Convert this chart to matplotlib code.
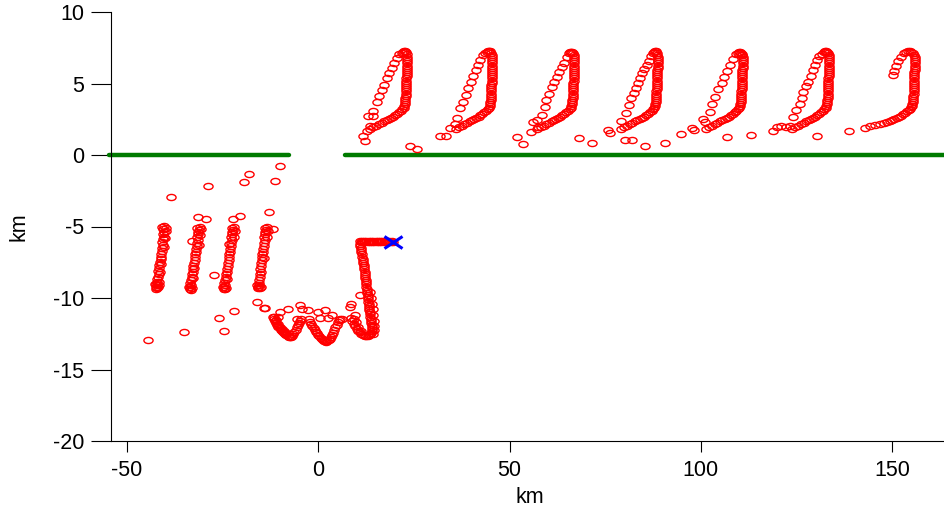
import matplotlib
matplotlib.use("Agg")
import matplotlib.pyplot as plt
from matplotlib.path import Path
from matplotlib.transforms import Affine2D

plt.rcParams['font.family'] = ['Liberation Sans', 'DejaVu Sans']
plt.rcParams['axes.unicode_minus'] = False

# ---------------------------------------------------------------------------
# Data (km)
# ---------------------------------------------------------------------------
# Barrier along y = 0 with an opening between the two segments
wall_left_x = [-54.6, -7.6]
wall_right_x = [7.0, 170.0]
wall_y = [0.0, 0.0]

# Final float position
end_x = 19.6
end_y = -6.06

# Upper excursions (north of the barrier), one list per loop
loop1 = [
    (12.2, 1.0), (11.8, 1.3), (12.7, 1.65), (13.5, 2.05), (13.1, 2.75), (14.4, 2.7),
    (14.4, 3.1), (15.3, 3.7), (15.9, 4.1), (16.6, 4.55), (17.2, 4.9), (17.9, 5.35),
    (18.6, 5.7), (19.2, 6.05), (19.8, 6.4), (20.5, 6.75), (21.2, 7.05),
    (21.8, 7.1), (22.1, 7.22), (22.4, 7.3), (22.7, 7.3), (22.95, 7.2), (23.1, 7.05),
    (23.2, 6.85), (23.2, 6.7), (23.2, 6.55), (23.25, 6.4), (23.25, 6.25), (23.2, 6.1),
    (23.15, 5.95), (23.1, 5.8), (23.1, 5.65), (23.08, 5.5), (23.05, 5.35), (23.0, 5.2),
    (23.0, 5.05), (22.98, 4.9), (22.95, 4.75), (22.93, 4.6), (22.9, 4.45), (22.88, 4.3),
    (22.85, 4.15), (22.8, 4.0), (22.75, 3.85), (22.68, 3.7), (22.6, 3.55), (22.48, 3.42),
    (22.3, 3.3), (22.0, 3.2), (21.6, 3.08), (21.1, 2.98), (20.6, 2.88), (20.1, 2.78),
    (19.6, 2.68), (19.0, 2.6), (18.5, 2.52), (17.9, 2.44), (17.3, 2.35), (16.6, 2.25),
    (15.9, 2.15), (15.2, 2.05), (14.4, 1.95), (13.6, 1.85),
]

loop2 = [
    (31.8, 1.36), (33.4, 1.3), (34.4, 1.86), (35.7, 2.2), (36.2, 2.56), (37.0, 3.26),
    (37.9, 3.7), (38.6, 4.2), (39.2, 4.66), (39.9, 5.13), (40.5, 5.5), (41.2, 5.94),
    (41.8, 6.3), (42.4, 6.64), (43.1, 7.0),
    (43.7, 7.1), (44.1, 7.2), (44.4, 7.28), (44.7, 7.3), (45.0, 7.25), (45.25, 7.15), (45.4, 7.0),
    (45.5, 6.85), (45.5, 6.7), (45.5, 6.55), (45.5, 6.4), (45.5, 6.25), (45.48, 6.1),
    (45.45, 5.95), (45.42, 5.8), (45.4, 5.65), (45.38, 5.5), (45.35, 5.35), (45.32, 5.2),
    (45.3, 5.05), (45.28, 4.9), (45.25, 4.75), (45.23, 4.6), (45.2, 4.45), (45.18, 4.3),
    (45.15, 4.15), (45.1, 4.0), (45.05, 3.85), (44.98, 3.7), (44.9, 3.55), (44.78, 3.42),
    (44.6, 3.3), (44.3, 3.2), (43.9, 3.08), (43.4, 2.98), (42.9, 2.88), (42.4, 2.78),
    (41.9, 2.68), (41.3, 2.6), (40.8, 2.52), (40.2, 2.44), (39.6, 2.35), (38.9, 2.25),
    (38.2, 2.15), (37.5, 2.05), (36.7, 1.95), (35.9, 1.85),
]

loop3 = [
    (55.7, 1.63), (56.2, 2.33), (57.1, 2.45), (57.5, 1.94), (58.4, 2.8), (59.2, 3.38),
    (59.6, 3.85), (60.3, 4.3), (61.0, 4.73), (61.6, 5.08), (62.3, 5.43), (62.95, 5.78),
    (63.6, 6.13), (64.2, 6.46), (64.9, 6.83), (65.6, 7.1),
    (65.8, 7.18), (66.1, 7.22), (66.4, 7.22), (66.65, 7.12), (66.8, 7.0),
    (66.9, 6.85), (66.9, 6.7), (66.9, 6.55), (66.95, 6.4), (66.95, 6.25), (66.9, 6.1),
    (66.85, 5.95), (66.82, 5.8), (66.8, 5.65), (66.78, 5.5), (66.75, 5.35), (66.72, 5.2),
    (66.7, 5.05), (66.68, 4.9), (66.65, 4.75), (66.63, 4.6), (66.6, 4.45), (66.58, 4.3),
    (66.55, 4.15), (66.5, 4.0), (66.45, 3.85), (66.38, 3.7), (66.3, 3.55), (66.18, 3.42),
    (66.0, 3.3), (65.7, 3.2), (65.3, 3.08), (64.8, 2.98), (64.3, 2.88), (63.8, 2.78),
    (63.3, 2.68), (62.7, 2.6), (62.2, 2.52), (61.6, 2.44), (61.0, 2.35), (60.3, 2.25),
    (59.6, 2.15), (58.9, 2.05), (58.1, 1.95), (57.3, 1.85),
]

loop4 = [
    (79.2, 2.38), (80.5, 2.96), (81.1, 3.5), (81.8, 3.96), (82.45, 4.36), (83.0, 4.7),
    (83.6, 5.06), (84.0, 5.36), (84.6, 5.71), (85.2, 6.0), (85.8, 6.3), (86.4, 6.6),
    (86.9, 6.9), (87.5, 7.1),
    (87.7, 7.18), (87.95, 7.25), (88.2, 7.25), (88.45, 7.15), (88.6, 7.0),
    (88.7, 6.85), (88.7, 6.7), (88.7, 6.55), (88.75, 6.4), (88.75, 6.25), (88.7, 6.1),
    (88.65, 5.95), (88.62, 5.8), (88.6, 5.65), (88.58, 5.5), (88.55, 5.35), (88.52, 5.2),
    (88.5, 5.05), (88.48, 4.9), (88.45, 4.75), (88.43, 4.6), (88.4, 4.45), (88.38, 4.3),
    (88.35, 4.15), (88.3, 4.0), (88.25, 3.85), (88.18, 3.7), (88.1, 3.55), (87.98, 3.42),
    (87.8, 3.3), (87.5, 3.2), (87.1, 3.08), (86.6, 2.98), (86.1, 2.88), (85.6, 2.78),
    (85.1, 2.68), (84.5, 2.6), (84.0, 2.52), (83.4, 2.44), (82.8, 2.35), (82.1, 2.25),
    (81.4, 2.15), (80.7, 2.05), (79.9, 1.95), (79.1, 1.85),
]

loop5 = [
    (100.5, 2.5), (101.2, 2.3), (102.3, 3.03), (103.0, 3.6), (103.6, 4.08), (104.5, 4.6),
    (105.4, 5.06), (106.1, 5.48), (106.8, 5.9), (107.5, 6.3), (108.4, 6.7), (109.3, 7.07),
    (109.6, 7.15), (109.9, 7.22), (110.2, 7.22), (110.45, 7.15), (110.65, 7.08), (110.8, 6.98),
    (110.9, 6.85), (110.9, 6.7), (110.9, 6.55), (110.95, 6.4), (110.95, 6.25), (110.9, 6.1),
    (110.85, 5.95), (110.82, 5.8), (110.8, 5.65), (110.78, 5.5), (110.75, 5.35), (110.72, 5.2),
    (110.7, 5.05), (110.68, 4.9), (110.65, 4.75), (110.63, 4.6), (110.6, 4.45), (110.58, 4.3),
    (110.55, 4.15), (110.5, 4.0), (110.45, 3.85), (110.38, 3.7), (110.3, 3.55), (110.18, 3.42),
    (110.0, 3.3), (109.7, 3.2), (109.3, 3.08), (108.8, 2.98), (108.3, 2.88), (107.8, 2.78),
    (107.3, 2.68), (106.7, 2.6), (106.2, 2.52), (105.6, 2.44), (105.0, 2.35), (104.3, 2.25),
    (103.6, 2.15), (102.9, 2.05), (102.1, 1.95), (101.3, 1.85),
]

loop6 = [
    (121.0, 2.03), (122.3, 1.94), (123.2, 2.05), (124.0, 2.68), (124.9, 3.15), (125.8, 3.6),
    (126.3, 4.0), (126.7, 4.43), (127.4, 4.8), (128.0, 5.13), (128.8, 5.55), (129.3, 5.94),
    (129.8, 6.3), (130.3, 6.64), (131.0, 6.95),
    (131.6, 7.08), (132.1, 7.18), (132.4, 7.24), (132.7, 7.25), (133.0, 7.2), (133.25, 7.12),
    (133.4, 7.0),
    (133.5, 6.85), (133.5, 6.7), (133.5, 6.55), (133.55, 6.4), (133.55, 6.25), (133.5, 6.1),
    (133.45, 5.95), (133.42, 5.8), (133.4, 5.65), (133.38, 5.5), (133.35, 5.35), (133.32, 5.2),
    (133.3, 5.05), (133.28, 4.9), (133.25, 4.75), (133.23, 4.6), (133.2, 4.45), (133.18, 4.3),
    (133.15, 4.15), (133.1, 4.0), (133.05, 3.85), (132.98, 3.7), (132.9, 3.55), (132.78, 3.42),
    (132.6, 3.3), (132.3, 3.2), (131.9, 3.08), (131.4, 2.98), (130.9, 2.88), (130.4, 2.78),
    (129.9, 2.68), (129.3, 2.6), (128.8, 2.52), (128.2, 2.44), (127.6, 2.35), (126.9, 2.25),
    (126.2, 2.15), (125.5, 2.05), (124.7, 1.95), (123.9, 1.85),
]

loop7 = [
    (150.2, 5.6), (150.6, 5.9), (151.1, 6.25), (151.6, 6.55), (152.3, 6.85), (153.0, 7.1),
    (153.7, 7.2), (154.2, 7.25), (154.6, 7.25), (155.0, 7.2), (155.35, 7.12), (155.65, 7.0),
    (155.9, 6.85), (155.9, 6.7), (155.9, 6.55), (155.95, 6.4), (155.95, 6.25), (155.9, 6.1),
    (155.85, 5.95), (155.82, 5.8), (155.8, 5.65), (155.78, 5.5), (155.75, 5.35), (155.72, 5.2),
    (155.7, 5.05), (155.68, 4.9), (155.65, 4.75), (155.63, 4.6), (155.6, 4.45), (155.58, 4.3),
    (155.55, 4.15), (155.5, 4.0), (155.45, 3.85), (155.38, 3.7), (155.3, 3.55), (155.18, 3.42),
    (155.0, 3.35), (154.7, 3.25), (154.3, 3.15), (153.8, 3.05), (153.3, 2.95), (152.8, 2.85),
    (152.3, 2.76), (151.7, 2.68), (151.2, 2.6), (150.6, 2.52), (150.0, 2.44), (149.3, 2.36),
    (148.6, 2.3), (147.9, 2.25),
]

# Isolated fixes between the northern loops
drift_north = [
    (24.0, 0.63), (25.9, 0.4), (52.0, 1.26), (53.5, 0.77), (68.2, 1.17), (71.6, 0.82),
    (75.7, 1.75), (76.3, 1.55), (80.1, 1.05), (82.1, 1.05), (85.3, 0.63), (90.5, 0.86),
    (94.9, 1.5), (97.7, 1.86), (98.2, 1.75), (106.9, 1.24), (113.0, 1.42), (118.8, 1.7),
    (120.0, 1.96), (130.3, 1.33), (138.7, 1.68), (142.8, 1.86), (144.1, 2.0), (145.4, 2.1),
    (146.7, 2.2),
]

# Southern oscillations (south of the barrier)
streak_a = [
    (-40.2, -4.98), (-40.7, -5.0), (-39.9, -5.1), (-40.5, -5.2), (-40.3, -5.35), (-40.6, -5.5),
    (-40.4, -5.7), (-40.5, -5.9), (-40.7, -6.1), (-40.6, -6.3), (-40.9, -6.5), (-40.8, -6.7),
    (-41.0, -6.9), (-41.2, -7.1), (-41.1, -7.3), (-41.4, -7.5), (-41.5, -7.7), (-41.6, -7.9),
    (-41.8, -8.1), (-41.7, -8.3), (-41.9, -8.5), (-42.0, -8.7), (-42.1, -8.85), (-42.3, -9.0),
    (-42.2, -9.1), (-42.4, -9.2), (-42.1, -9.3), (-42.5, -9.35), (-41.9, -9.25),
    (-41.6, -8.9), (-41.3, -8.2), (-41.0, -7.6), (-40.3, -6.4), (-39.8, -5.3), (-40.0, -5.8),
    (-41.5, -9.1), (-42.6, -9.05),
]

streak_b = [
    (-31.0, -5.05), (-31.6, -5.1), (-31.2, -5.25), (-31.5, -5.4), (-31.3, -5.55), (-31.6, -5.75),
    (-31.5, -5.95), (-31.8, -6.15), (-31.7, -6.35), (-32.0, -6.55), (-31.9, -6.75), (-32.2, -6.95),
    (-32.3, -7.15), (-32.2, -7.35), (-32.5, -7.55), (-32.6, -7.75), (-32.8, -7.95), (-32.7, -8.15),
    (-33.0, -8.35), (-33.1, -8.55), (-33.2, -8.75), (-33.4, -8.95), (-33.3, -9.1), (-33.5, -9.25),
    (-33.6, -9.38), (-33.2, -9.44), (-32.9, -9.3), (-30.7, -5.2), (-32.8, -8.6), (-32.4, -7.9),
    (-30.9, -5.6), (-31.2, -6.3), (-33.8, -9.2),
]

streak_c = [
    (-22.0, -5.05), (-22.6, -5.1), (-22.2, -5.25), (-22.5, -5.4), (-22.4, -5.55), (-22.7, -5.75),
    (-22.6, -5.95), (-22.9, -6.15), (-22.8, -6.35), (-23.1, -6.55), (-23.0, -6.75), (-23.3, -6.95),
    (-23.4, -7.15), (-23.3, -7.35), (-23.6, -7.55), (-23.7, -7.75), (-23.9, -7.95), (-23.8, -8.15),
    (-24.1, -8.35), (-24.2, -8.55), (-24.3, -8.75), (-24.5, -8.95), (-24.4, -9.1), (-24.6, -9.25),
    (-24.7, -9.36), (-24.3, -9.39), (-24.0, -9.28), (-21.7, -5.3), (-23.2, -6.2),
    (-22.1, -5.7), (-23.9, -8.7), (-24.9, -9.2),
]

streak_d = [
    (-13.4, -5.05), (-14.0, -5.1), (-13.6, -5.25), (-13.9, -5.4), (-13.8, -5.55), (-14.1, -5.75),
    (-14.0, -5.95), (-14.2, -6.15), (-14.1, -6.35), (-14.4, -6.55), (-14.3, -6.75), (-14.6, -6.95),
    (-14.7, -7.15), (-14.6, -7.35), (-14.9, -7.55), (-14.9, -7.75), (-15.1, -7.95), (-15.0, -8.15),
    (-15.2, -8.35), (-15.3, -8.55), (-15.4, -8.75), (-15.5, -8.95), (-15.5, -9.1), (-15.7, -9.22),
    (-15.7, -9.32), (-15.3, -9.3), (-15.0, -9.2), (-13.2, -5.3),
    (-13.5, -5.7), (-14.2, -7.2), (-15.9, -9.1),
]

vee_west = [
    (-11.9, -11.3), (-11.6, -11.45), (-11.3, -11.6), (-11.0, -11.75), (-10.7, -11.9),
    (-10.4, -12.02), (-10.1, -12.13), (-9.8, -12.23), (-9.5, -12.32), (-9.2, -12.4),
    (-8.9, -12.48), (-8.6, -12.55), (-8.3, -12.61), (-8.0, -12.66), (-7.7, -12.7),
    (-7.4, -12.72), (-7.1, -12.7), (-6.8, -12.63), (-6.5, -12.52), (-6.2, -12.38),
    (-5.9, -12.22), (-5.6, -12.06), (-5.3, -11.9), (-5.0, -11.74), (-4.7, -11.58), (-4.4, -11.44),
    (-11.5, -11.3), (-11.0, -11.55), (-10.5, -11.8), (-10.0, -12.0), (-9.5, -12.15),
    (-9.0, -12.3), (-8.5, -12.42),
]

vee_mid = [
    (-2.4, -11.5), (-2.1, -11.66), (-1.8, -11.8), (-1.5, -11.95), (-1.2, -12.08), (-0.9, -12.22),
    (-0.6, -12.35), (-0.3, -12.47), (0.0, -12.58), (0.3, -12.68), (0.6, -12.77), (0.9, -12.85),
    (1.2, -12.92), (1.5, -12.98), (1.8, -13.03), (2.1, -13.05), (2.4, -13.03), (2.7, -12.97),
    (3.0, -12.87), (3.3, -12.75), (3.6, -12.6), (3.9, -12.42), (4.2, -12.24), (4.5, -12.05),
    (4.8, -11.86), (5.1, -11.7), (5.4, -11.56), (5.7, -11.45),
]

hook = [
    (10.9, -6.2), (11.0, -6.35), (11.1, -6.5), (11.2, -6.65), (11.3, -6.8), (11.45, -6.95),
    (11.55, -7.1), (11.65, -7.25), (11.75, -7.4), (11.8, -7.55), (11.9, -7.7), (11.95, -7.85),
    (12.05, -8.0), (12.1, -8.15), (12.2, -8.3), (12.25, -8.45), (12.35, -8.6), (12.4, -8.75),
    (12.5, -8.9), (12.55, -9.05), (12.6, -9.2), (12.7, -9.35), (12.75, -9.5), (12.8, -9.65),
    (12.9, -9.8), (12.95, -9.95), (13.0, -10.1), (13.1, -10.25), (13.15, -10.4), (13.2, -10.55),
    (13.3, -10.7), (13.35, -10.85), (13.45, -11.0), (13.5, -11.15), (13.6, -11.3), (13.7, -11.45),
    (13.8, -11.6), (13.9, -11.75), (14.0, -11.9), (14.05, -12.05), (14.1, -12.2), (14.05, -12.33),
    (13.9, -12.45), (13.6, -12.55), (13.3, -12.62), (12.9, -12.66), (12.5, -12.66), (12.1, -12.63),
    (11.7, -12.58), (11.3, -12.5), (10.9, -12.4), (10.5, -12.28), (10.1, -12.14), (9.7, -11.98),
    (9.3, -11.8), (8.9, -11.6), (8.5, -11.4),
    # outer edge of the lower part of the hook
    (13.6, -9.6), (13.8, -10.0), (14.0, -10.4), (14.2, -10.8), (14.4, -11.2), (14.6, -11.6),
    (14.7, -11.95), (14.6, -12.25), (14.3, -12.5), (11.2, -12.3), (10.4, -12.0), (9.8, -11.7),
]

# Final eastward leg at about 6 km south
leg_x = [10.8, 11.1, 11.4, 11.7, 12.0, 12.3, 12.6, 12.9, 13.2, 13.5, 13.8, 14.1, 14.4, 14.7,
         15.0, 15.3, 15.6, 15.9, 16.2, 16.5, 16.8, 17.1, 17.4, 17.7, 18.0, 18.3, 18.6, 18.9,
         19.2, 19.5]
leg_y = [-6.02, -6.08, -6.02, -6.08, -6.02, -6.08, -6.02, -6.08, -6.02, -6.08, -6.02, -6.08,
         -6.02, -6.08, -6.02, -6.08, -6.02, -6.08, -6.02, -6.08, -6.02, -6.08, -6.02, -6.08,
         -6.02, -6.08, -6.02, -6.08, -6.02, -6.06]

# Isolated fixes south of the barrier
drift_south = [
    (-9.97, -0.77), (-11.3, -1.82), (-18.2, -1.33), (-19.4, -1.86), (-28.7, -2.2),
    (-38.5, -2.96), (-12.8, -4.0), (-20.4, -4.3), (-22.2, -4.48), (-29.3, -4.48),
    (-31.3, -4.36), (-11.9, -5.17), (-33.0, -6.0), (-27.2, -8.4), (-16.1, -10.3),
    (-14.2, -10.7), (-22.0, -10.9), (-25.9, -11.4), (-35.2, -12.35), (-24.6, -12.3),
    (-44.4, -12.96), (-13.9, -10.7), (-7.8, -10.8), (-10.0, -10.96), (-10.4, -11.3),
    (-4.75, -10.5), (-4.3, -10.8), (-2.6, -10.84), (-5.6, -11.5), (0.0, -10.96),
    (1.8, -10.84), (0.5, -11.4), (2.6, -11.4), (3.5, -11.2), (6.1, -11.5), (8.3, -10.65),
    (8.7, -10.4), (9.6, -11.2), (9.4, -11.5), (10.9, -9.8),
]

# ---------------------------------------------------------------------------
# Figure
# ---------------------------------------------------------------------------
W, H = 945, 508
fig = plt.figure(figsize=(W / 100, H / 100), dpi=100)
ax = fig.add_axes([111 / W, 67 / H, 834 / W, 429 / H])

ring = Path.unit_circle().transformed(Affine2D().scale(1.5, 1.0))
cross = Path([(-1.5, -1.0), (1.5, 1.0), (-1.5, 1.0), (1.5, -1.0)],
             [Path.MOVETO, Path.LINETO, Path.MOVETO, Path.LINETO])

wall_color = '#007a00'
ax.plot(wall_left_x, wall_y, color=wall_color, lw=3.2, solid_capstyle='round',
        clip_on=False, zorder=2)
ax.plot(wall_right_x, wall_y, color=wall_color, lw=3.2, solid_capstyle='round', zorder=2)

marker_style = dict(ls='none', marker=ring, ms=6.6, mfc='none', mec='red', mew=1.0, zorder=3)
groups = [loop1, loop2, loop3, loop4, loop5, loop6, loop7, drift_north,
          streak_a, streak_b, streak_c, streak_d, vee_west, vee_mid, hook, drift_south]
for pts in groups:
    xs = [p[0] for p in pts]
    ys = [p[1] for p in pts]
    ax.plot(xs, ys, **marker_style)
ax.plot(leg_x, leg_y, **marker_style)

ax.plot([end_x], [end_y], ls='none', marker=cross, ms=13, mfc='none', mec='blue',
        mew=2.2, zorder=4)

ax.set_xlim(-54.15, 163.8)
ax.set_ylim(-20, 10)
ax.set_xticks([-50, 0, 50, 100, 150])
ax.set_yticks([-20, -15, -10, -5, 0, 5, 10])
ax.tick_params(axis='y', direction='out', length=14.4, width=0.8, pad=5, labelsize=15.5)
ax.tick_params(axis='x', direction='out', length=8, width=0.8, pad=6, labelsize=15.5)
for side in ('top', 'right'):
    ax.spines[side].set_visible(False)
for side in ('left', 'bottom'):
    ax.spines[side].set_linewidth(0.8)

ax.set_xlabel('km', fontsize=15.5)
ax.set_ylabel('km', fontsize=15.5)
ax.xaxis.set_label_coords(0.5024, -0.107)
ax.yaxis.set_label_coords(-0.098, 0.5)

fig.savefig('out.png', dpi=100)
